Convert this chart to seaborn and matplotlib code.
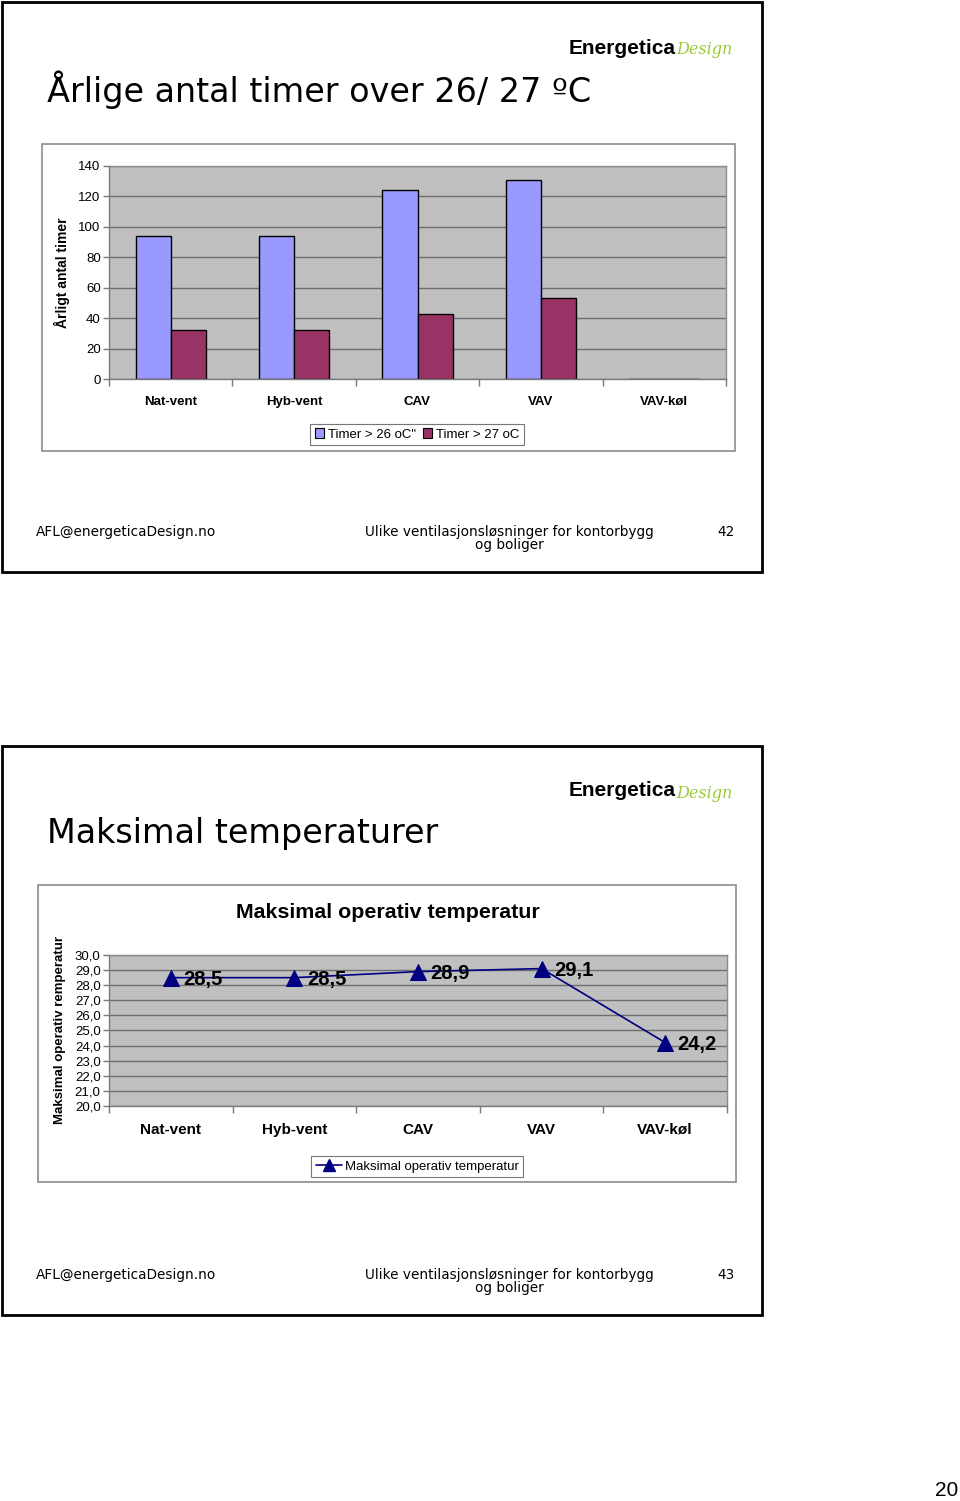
import numpy as np
import pandas as pd
import matplotlib
matplotlib.use("Agg")
import matplotlib.pyplot as plt
from matplotlib.patches import Rectangle, Patch
from matplotlib.lines import Line2D
from matplotlib.ticker import FixedLocator, FuncFormatter
import seaborn as sns

# ---------------- data ----------------
categories = ["Nat-vent", "Hyb-vent", "CAV", "VAV", "VAV-køl"]
timer_26 = [94, 94, 124, 131, 0]
timer_27 = [32, 32, 43, 53, 0]
series_names = ["Timer > 26 oC\"", "Timer > 27 oC"]
max_temp = [28.5, 28.5, 28.9, 29.1, 24.2]
max_temp_name = "Maksimal operativ temperatur"

bar_colors = ["#9999FF", "#993366"]
line_color = "#000080"

W, H = 960, 1501
sns.set_theme(style="white")
plt.rcParams["font.family"] = ["Liberation Sans", "DejaVu Sans"]
for k in ["text.color", "axes.labelcolor", "xtick.color", "ytick.color"]:
    plt.rcParams[k] = "black"

fig = plt.figure(figsize=(W / 100, H / 100), dpi=100)
fig.patch.set_facecolor("white")


def box(x0, y0, x1, y1):
    return [x0 / W, 1 - y1 / H, (x1 - x0) / W, (y1 - y0) / H]


def fx(x):
    return x / W


def fy(y):
    return 1 - y / H


def frame(x0, y0, x1, y1, ec, lw):
    fig.patches.append(Rectangle((fx(x0), fy(y1)), (x1 - x0) / W, (y1 - y0) / H,
                                 transform=fig.transFigure, fill=False,
                                 edgecolor=ec, linewidth=lw, zorder=0))


# slide frames
frame(2, 2, 762, 572, "black", 2.0)
frame(2, 746, 762, 1315, "black", 2.0)
# chart boxes
frame(42, 144, 735, 451, "#8c8c8c", 1.2)
frame(38, 885, 736, 1182, "#8c8c8c", 1.2)

title_font = "DejaVu Sans"


def slide_decor(y_off, title, page):
    fig.text(fx(47), fy(90 + y_off), title, fontsize=24, family=title_font,
             va="center", ha="left", color="black")
    fig.text(fx(569), fy(48 + y_off), "Energetica", fontsize=15, fontweight="bold",
             va="center", ha="left", color="black")
    fig.text(fx(676), fy(50 + y_off), "Design", fontsize=11.5, style="italic",
             family="DejaVu Serif", va="center", ha="left", color="#99CC33")
    fig.text(fx(36), fy(532 + y_off), "AFL@energeticaDesign.no", fontsize=9.8,
             family=title_font, va="center", ha="left")
    fig.text(fx(509), fy(538.5 + y_off), "Ulike ventilasjonsløsninger for kontorbygg\nog boliger",
             fontsize=9.8, family=title_font, va="center", ha="center", linespacing=0.95)
    fig.text(fx(735), fy(532 + y_off), page, fontsize=9.8, family=title_font,
             va="center", ha="right")


slide_decor(0, "Årlige antal timer over 26/ 27 ºC", "42")
slide_decor(743, "Maksimal temperaturer", "43")

fig.text(fx(958), fy(1490), "20", fontsize=15, ha="right", va="center")


def style_axes(ax):
    ax.set_facecolor("#C0C0C0")
    for s in ["top", "right"]:
        ax.spines[s].set_visible(True)
        ax.spines[s].set_color("#8c8c8c")
        ax.spines[s].set_linewidth(1.0)
    for s in ["left", "bottom"]:
        ax.spines[s].set_color("#7a7a7a")
        ax.spines[s].set_linewidth(1.0)
    ax.set_xlim(-0.5, len(categories) - 0.5)
    ax.set_xticks(range(len(categories)))
    ax.set_xticklabels(categories)
    ax.xaxis.set_minor_locator(FixedLocator(np.arange(-0.5, len(categories), 1.0)))
    ax.tick_params(axis="x", which="major", length=0, pad=12)
    ax.tick_params(axis="x", which="minor", length=5, width=1, color="#7a7a7a", direction="out", bottom=True)
    ax.tick_params(axis="y", which="major", length=4, width=1, color="#7a7a7a", direction="out", left=True, pad=2)
    ax.grid(axis="y", color="#6e6e6e", linewidth=1.0)
    ax.grid(axis="x", visible=False)
    ax.set_axisbelow(True)
    ax.set_xlabel("")


# ---------------- top chart: bars ----------------
ax1 = fig.add_axes(box(109, 166, 726, 379))
df1 = pd.DataFrame({
    "cat": categories * 2,
    "series": [series_names[0]] * len(categories) + [series_names[1]] * len(categories),
    "val": timer_26 + timer_27,
})
sns.barplot(data=df1, x="cat", y="val", hue="series", order=categories,
            hue_order=series_names, palette=bar_colors, width=0.57,
            edgecolor="black", linewidth=1.0, saturation=1.0, ax=ax1, legend=False)
style_axes(ax1)
ax1.set_ylim(0, 140)
ax1.set_yticks(range(0, 141, 20))
ax1.tick_params(axis="y", labelsize=9.5)
ax1.tick_params(axis="x", labelsize=9.5)
for t in ax1.get_xticklabels():
    t.set_fontweight("bold")
ax1.set_ylabel("Årligt antal timer", fontsize=10, fontweight="bold", labelpad=6)

handles1 = [Patch(facecolor=c, edgecolor="black", linewidth=0.8) for c in bar_colors]
leg1 = fig.legend(handles1, series_names, loc="center", bbox_to_anchor=(fx(417), fy(434.5)),
                  ncol=2, fontsize=9.5, frameon=True, fancybox=False, edgecolor="#555555",
                  handlelength=0.7, handleheight=0.7, handletextpad=0.3, columnspacing=0.5,
                  borderpad=0.35)
leg1.get_frame().set_linewidth(0.8)

# ---------------- bottom chart: line ----------------
fig.text(fx(388), fy(912), "Maksimal operativ temperatur", fontsize=15.4, fontweight="bold",
         ha="center", va="center")
ax2 = fig.add_axes(box(109, 955, 727, 1106))
df2 = pd.DataFrame({"cat": categories, "val": max_temp})
sns.lineplot(data=df2, x="cat", y="val", color=line_color, marker="^", markersize=12,
             markeredgecolor=line_color, linewidth=1.2, ax=ax2, sort=False)
style_axes(ax2)
ax2.set_ylim(20, 30)
ax2.set_yticks(np.arange(20, 30.01, 1))
ax2.yaxis.set_major_formatter(FuncFormatter(lambda v, p: f"{v:.1f}".replace(".", ",")))
ax2.tick_params(axis="y", labelsize=9.5, pad=2)
ax2.tick_params(axis="x", labelsize=11)
for t in ax2.get_xticklabels():
    t.set_fontweight("bold")
ax2.set_ylabel("Maksimal operativ remperatur", fontsize=9.5, fontweight="bold", labelpad=6)
for i, v in enumerate(max_temp):
    ax2.text(i + 0.1, v, f"{v:.1f}".replace(".", ","), fontsize=14.5, fontweight="bold",
             ha="left", va="center_baseline", color="black")

handles2 = [Line2D([0], [0], color=line_color, marker="^", markersize=8, linewidth=1.2)]
leg2 = fig.legend(handles2, [max_temp_name], loc="center", bbox_to_anchor=(fx(417), fy(1166.5)),
                  fontsize=9.5, frameon=True, fancybox=False, edgecolor="#555555",
                  handlelength=2.0, handletextpad=0.2, borderpad=0.35)
leg2.get_frame().set_linewidth(0.8)

fig.savefig("out.png", dpi=100, facecolor="white")
